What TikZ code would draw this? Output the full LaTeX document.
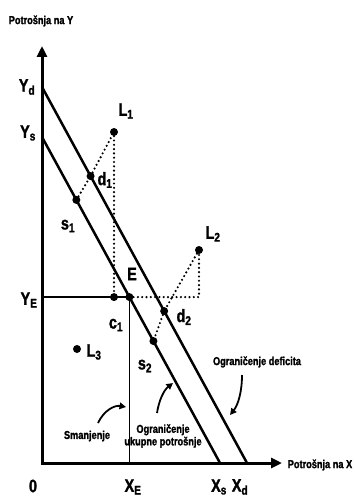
\documentclass[tikz,border=0pt]{standalone}
\usepackage{fontspec}
\setmainfont{Liberation Sans}
\newfontfamily\narrowbold{Liberation Sans}[FakeStretch=0.8, UprightFont=*-Bold, FakeBold=1.5]
\usetikzlibrary{arrows.meta,calc}
\tikzset{
  ax/.style={line width=3pt, line join=miter, {Triangle[length=11pt,width=10pt]}-{Triangle[length=11pt,width=10pt]}},
  bud/.style={line width=2.5pt},
  thin/.style={line width=1.6pt},
  guide/.style={line width=2.4pt, dash pattern=on 0pt off 4.3pt, line cap=round},
  pt/.style={circle, fill, inner sep=0pt, minimum size=8pt},
  lbl/.style={font=\fontsize{18}{18}\narrowbold, inner sep=0pt},
  note/.style={font=\fontsize{11.5}{12.5}\narrowbold, align=center, inner sep=0pt},
  curl/.style={line width=1.8pt, -{Triangle[length=6.5pt,width=6.5pt]}},
}

\begin{document}
\begin{tikzpicture}[x=1pt, y=-1pt]
  \useasboundingbox (0,0) rectangle (355,497);
  % axes and the two constraints
  \coordinate (O) at (42,463);
  \coordinate (Ytop) at (42,46);
  \coordinate (Xend) at (282,463);
  \coordinate (Yd) at (42,87);
  \coordinate (Xd) at (247,463);
  \coordinate (Ys) at (42,137);
  \coordinate (Xs) at (220,463);
  \draw[ax] (Ytop) -- (O) -- (Xend);
  \draw[bud] (Yd) -- (Xd);
  \draw[bud] (Ys) -- (Xs);
  % points
  \node[pt] (d1) at ($(Yd)!0.237!(Xd)$) {};
  \node[pt] (d2) at ($(Yd)!0.596!(Xd)$) {};
  \node[pt] (s1) at ($(Ys)!0.193!(Xs)$) {};
  \node[pt] (E)  at ($(Ys)!0.491!(Xs)$) {};
  \node[pt] (s2) at ($(Ys)!0.626!(Xs)$) {};
  \node[pt] (L1) at (114,132) {};
  \node[pt] (L2) at (199,250) {};
  \node[pt] (L3) at (77,349) {};
  \node[pt] (c1) at (L1 |- E) {};
  \coordinate (YE) at (E -| O);
  \coordinate (XE) at (E |- O);
  \coordinate (k2) at (L2 |- E);
  \draw[bud] (YE) -- (E.center);
  \draw[thin] (E.center) -- (XE);
  \draw[guide] (s1) -- (d1) -- (L1) -- (c1);
  \draw[guide] (E) -- (k2) -- (L2) -- (d2) -- (s2);
  % labels
  \node[note] (tY) at (41,21) {Potrošnja na Y};
  \node[note] (tX) at (320,465) {Potrošnja na X};
  \node[lbl] (lYd) at (27,87) {Y\textsubscript{d}};
  \node[lbl] (lYs) at (28,133) {Y\textsubscript{s}};
  \node[lbl] (lYE) at (29,300) {Y\textsubscript{E}};
  \node[lbl] (l0) at (33,486) {0};
  \node[lbl] (lXE) at (133,487) {X\textsubscript{E}};
  \node[lbl] (lXs) at (219,487) {X\textsubscript{s}};
  \node[lbl] (lXd) at (240,487) {X\textsubscript{d}};
  \node[lbl] (lL1) at (126,111) {L\textsubscript{1}};
  \node[lbl] (lL2) at (213,234) {L\textsubscript{2}};
  \node[lbl] (lL3) at (94,352) {L\textsubscript{3}};
  \node[lbl] (ld1) at (105,180) {d\textsubscript{1}};
  \node[lbl] (ld2) at (184,317) {d\textsubscript{2}};
  \node[lbl] (ls1) at (68,226) {s\textsubscript{1}};
  \node[lbl] (ls2) at (145,366) {s\textsubscript{2}};
  \node[lbl] (lc1) at (116,325) {c\textsubscript{1}};
  \node[lbl] (lE) at (132,274) {E};
  \node[note] (nSm) at (87,436) {Smanjenje};
  \node[note] (nUk) at (163,436) {Ograničenje\\ukupne potrošnje};
  \node[note] (nDf) at (257,362) {Ograničenje deficita};
  % pointers
  \coordinate (aSm) at (98,423);
  \coordinate (pSm) at (126,407);
  \coordinate (aUk) at (157,413);
  \coordinate (pUk) at (173,383);
  \coordinate (aDf) at (242,375);
  \coordinate (pDf) at (230,415);
  \draw[curl] (aSm) .. controls (104,410) and (115,405) .. (pSm);
  \draw[curl] (aUk) .. controls (159,400) and (164,390) .. (pUk);
  \draw[curl] (aDf) .. controls (242,392) and (238,405) .. (pDf);
\end{tikzpicture}
\end{document}
